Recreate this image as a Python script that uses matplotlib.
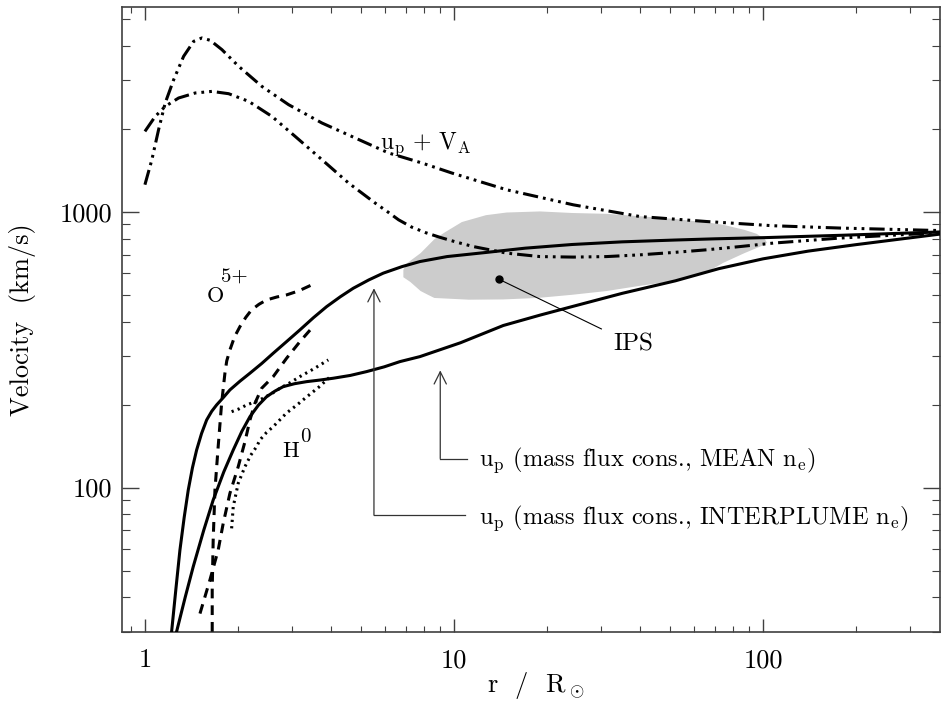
import matplotlib
matplotlib.use("Agg")
import matplotlib.pyplot as plt
from matplotlib.ticker import FuncFormatter, NullFormatter

plt.rcParams["font.family"] = "cmr10"
plt.rcParams["mathtext.fontset"] = "cm"
plt.rcParams["axes.formatter.use_mathtext"] = True
plt.rcParams["lines.scale_dashes"] = False

# u_p + V_A curves (dash-dot-dot-dot)
va_high_r = [1.00, 1.053, 1.107, 1.163, 1.239, 1.334, 1.438, 1.529, 1.627, 1.775, 2.011,
             2.391, 2.917, 3.740, 4.793, 6.148, 7.880, 9.851, 14.81, 24.33, 40.0, 65.7,
             108, 177.5, 374]
va_high_v = [1254, 1544, 1984, 2480, 3014, 3662, 4151, 4271, 4186, 3873, 3369,
             2849, 2446, 2099, 1852, 1634, 1503, 1382, 1202, 1060, 961, 922,
             890, 873, 855]
va_low_r = [1.00, 1.080, 1.163, 1.285, 1.455, 1.647, 1.866, 2.166, 2.576, 3.065, 3.740,
            4.563, 5.564, 6.1, 6.622, 7.3, 8.1, 9.01, 10.2, 11.55, 14.81, 18.98, 24.33,
            31.2, 40.0, 51.3, 65.7, 84.3, 108, 177.5, 374]
va_low_v = [1957, 2218, 2411, 2586, 2697, 2733, 2681, 2515, 2218, 1876, 1545,
            1271, 1075, 1000, 935, 880, 840, 808, 776, 748, 708, 688, 685,
            688, 698, 712, 728, 748, 770, 803, 840]

# u_p from mass flux conservation
up_inter_r = [1.220, 1.26, 1.298, 1.34, 1.381, 1.425, 1.470, 1.525, 1.584, 1.645, 1.706,
              1.80, 1.884, 2.03, 2.187, 2.39, 2.601, 2.88, 3.174, 3.51, 3.873, 4.29,
              4.722, 5.30, 5.904, 6.8, 7.762, 9.5, 12.69, 17.0, 24.1, 35.0, 52.1, 70.0,
              101.5, 180, 374]
up_inter_v = [30.0, 43, 59.3, 78, 97.9, 118, 136.8, 157, 175.8, 189, 199.3,
              213, 226, 243, 259.8, 282, 306.9, 339, 373, 413, 453, 492,
              528, 566, 599, 633, 660, 688, 712, 738, 761, 778, 790, 798,
              806, 822, 845]
up_mean_r = [1.266, 1.35, 1.433, 1.55, 1.663, 1.80, 1.931, 2.06, 2.187, 2.33, 2.477,
             2.64, 2.803, 3.05, 3.337, 3.70, 4.068, 4.62, 5.218, 5.95, 6.687, 7.762,
             10.5, 14.44, 19.0, 24.13, 35.0, 52.1, 72.0, 100, 140, 200, 275, 374]
up_mean_v = [30, 40, 51.6, 70, 90.1, 114, 136.8, 160, 180.7, 199, 213.6,
             224, 232.2, 238, 242.1, 245.5, 249.1, 255, 263.3, 274, 286.2, 298.4,
             335, 386.9, 422, 453.2, 506, 562, 622, 675, 720, 760, 795, 830]

# O5+ (dashed)
o5_a_r = [1.651, 1.651, 1.663, 1.685, 1.726, 1.771, 1.815, 1.84, 1.884, 1.95, 2.030,
          2.12, 2.214, 2.34, 2.476, 2.674, 2.874, 3.15, 3.464]
o5_a_v = [30.0, 42.5, 64.5, 97.9, 140.7, 202.1, 259.8, 288, 315.6, 352, 383.4,
          414, 441, 462, 479, 491, 499.6, 517, 543]
o5_b_r = [1.507, 1.623, 1.726, 1.792, 1.884, 2.004, 2.107, 2.187, 2.270, 2.386, 2.601,
          2.874, 3.174, 3.464]
o5_b_v = [34.9, 46.2, 59.3, 74.1, 95.3, 119, 146.6, 175.8, 202.1, 229, 252.5,
          294.4, 338.2, 378.2]

# H0 (dotted)
h0_a_r = [1.908, 2.02, 2.134, 2.27, 2.414, 2.57, 2.735, 2.95, 3.174, 3.53, 3.920]
h0_a_v = [188.4, 193, 199.3, 204.5, 210.8, 219, 229.1, 240, 252.5, 270, 290.3]
h0_b_r = [1.908, 1.931, 2.004, 2.107, 2.20, 2.298, 2.356, 2.47, 2.601, 2.874, 3.1,
          3.337, 3.65, 3.970]
h0_b_v = [71.1, 85.2, 103.6, 119, 131, 140.7, 148.8, 158, 166.3, 186.4, 199,
          213.1, 231, 251.8]

# IPS region outline
ips_r = [6.86, 7.04, 7.80, 8.64, 9.34, 10.61, 12.69, 14.81, 18.98, 24.13, 31.2, 40.3,
         51.3, 67.4, 74.4, 87.1, 95.4, 101.5, 103, 99.3, 87.1, 74.4, 67.4, 52.1, 40.0,
         31.2, 24.1, 18.66, 14.41, 11.17, 8.64, 8.21, 7.80, 7.22, 6.86]
ips_v = [616, 650, 708, 795, 842, 918, 972, 994, 1003, 990, 983, 963,
         943, 912, 897, 860, 832, 795, 772, 753, 708, 653, 613, 562, 539,
         516, 500, 487, 481, 480, 487, 501, 516, 557, 579]
ips_point = (14.0, 569)

fig = plt.figure(figsize=(9.41, 7.04), dpi=100)
ax = fig.add_axes([122 / 941, 1 - 631.7 / 704, 818 / 941, 624.7 / 704])
ax.set_xscale("log")
ax.set_yscale("log")
ax.set_xlim(0.843, 374)
ax.set_ylim(30, 5530)

dashdot3 = (0, (11, 3.6, 2, 3.6, 2, 3.6, 2, 3.6))
dashed = (0, (7, 5))
dotted = (0, (1.6, 3))
lw = 2.2

ax.fill(ips_r, ips_v, color="#cccccc", lw=0, zorder=1)

ax.plot(va_high_r, va_high_v, color="k", lw=lw, ls=dashdot3, zorder=3)
ax.plot(va_low_r, va_low_v, color="k", lw=lw, ls=dashdot3, zorder=3)
ax.plot(up_inter_r, up_inter_v, color="k", lw=lw, zorder=3)
ax.plot(up_mean_r, up_mean_v, color="k", lw=lw, zorder=3)
ax.plot(o5_a_r, o5_a_v, color="k", lw=lw, ls=dashed, zorder=3)
ax.plot(o5_b_r, o5_b_v, color="k", lw=lw, ls=dashed, zorder=3)
ax.plot(h0_a_r, h0_a_v, color="k", lw=lw, ls=dotted, zorder=3)
ax.plot(h0_b_r, h0_b_v, color="k", lw=lw, ls=dotted, zorder=3)

# IPS marker and pointer
ax.plot(*ips_point, "o", color="k", ms=5, zorder=4)
ax.plot([ips_point[0], 30], [ips_point[1], 376], color="k", lw=0.8, zorder=4)
ax.text(32.7, 313, "IPS", fontsize=18, ha="left", va="baseline")

# arrows to the two u_p curves
arrow_kw = dict(arrowstyle="->", color="#333333", lw=0.9, mutation_scale=22,
                shrinkA=0, shrinkB=0)
ax.annotate("", xy=(5.51, 528), xytext=(5.51, 79.4), arrowprops=arrow_kw)
ax.plot([5.51, 10.89], [79.4, 79.4], color="#333333", lw=0.9)
ax.annotate("", xy=(9.03, 266), xytext=(9.03, 127.4), arrowprops=arrow_kw)
ax.plot([9.03, 11.02], [127.4, 127.4], color="#333333", lw=0.9)
ax.text(12.04, 120.3, r"u$_\mathrm{p}$ (mass flux cons., MEAN n$_\mathrm{e}$)",
        fontsize=17.6, ha="left", va="baseline")
ax.text(12.04, 73.7, r"u$_\mathrm{p}$ (mass flux cons., INTERPLUME n$_\mathrm{e}$)",
        fontsize=17.6, ha="left", va="baseline")

# curve labels
ax.text(5.76, 1693, r"u$_\mathrm{p}$ + V$_\mathrm{A}$", fontsize=17, ha="left", va="baseline")
ax.text(1.587, 472.5, "O", fontsize=16, ha="left", va="baseline")
ax.text(1.762, 552, "5+", fontsize=15, ha="left", va="baseline")
ax.text(2.790, 129.4, "H", fontsize=16, ha="left", va="baseline")
ax.text(3.174, 146.6, "0", fontsize=15, ha="left", va="baseline")

# axes styling
for s in ax.spines.values():
    s.set_color("#404040")
    s.set_linewidth(1.2)
ax.tick_params(which="both", direction="in", top=True, right=True, colors="#404040",
               labelcolor="k", labelsize=19)
ax.tick_params(axis="x", which="major", length=9.5, width=1, pad=12)
ax.tick_params(axis="x", which="minor", length=4.5, width=0.8)
ax.tick_params(axis="y", which="major", length=12, width=1, pad=7)
ax.tick_params(axis="y", which="minor", length=6, width=0.8)
ax.xaxis.set_major_formatter(FuncFormatter(lambda v, p: "%d" % round(v)))
ax.yaxis.set_major_formatter(FuncFormatter(lambda v, p: "%d" % round(v)))
ax.xaxis.set_minor_formatter(NullFormatter())
ax.yaxis.set_minor_formatter(NullFormatter())

fig.text(23 / 941, 1 - 320 / 704, "Velocity  (km/s)", rotation=90, fontsize=19,
         ha="center", va="center")
fig.text(536 / 941, 1 - 692 / 704, r"r  /  R$_\odot$", fontsize=19, ha="center", va="baseline")

fig.savefig("out.png", dpi=100)
